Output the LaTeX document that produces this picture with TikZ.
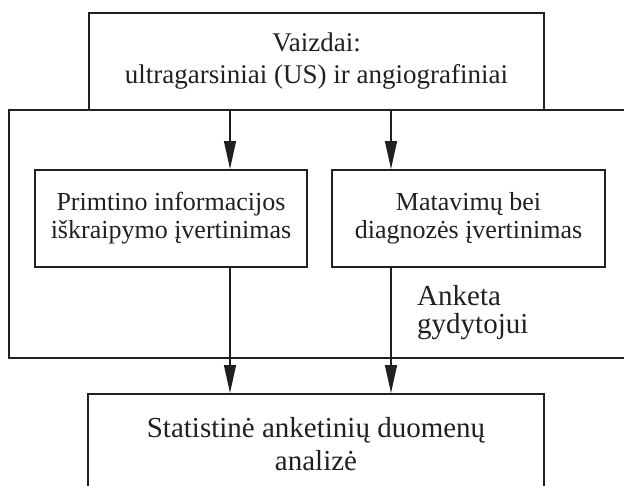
\documentclass[tikz,border=0pt]{standalone}
\usepackage{fontspec}
\setmainfont{Liberation Serif}
\usetikzlibrary{arrows.meta}
\definecolor{ink}{RGB}{35,31,32}

\begin{document}
\begin{tikzpicture}[x=1pt, y=-1pt,
    every node/.style={text=ink},
    box/.style={draw=ink, line width=2pt, align=center, inner sep=0pt, minimum height=97pt},
    toptext/.style={font=\fontsize{27}{32}\selectfont},
    midtext/.style={font=\fontsize{26}{28}\selectfont},
    bottext/.style={font=\fontsize{29}{33}\selectfont},
    arr/.style={draw=ink, line width=1.3pt, -{Triangle[length=28pt, width=12pt]}}
]
\useasboundingbox (0,0) rectangle (624,485);

\node[box, toptext, minimum width=455pt] (vaizdai) at (316.5,61.5)
    {Vaizdai:\\ultragarsiniai (US) ir angiografiniai};

\draw[draw=ink, line width=2pt] (9,110) rectangle (640,358);

\node[box, midtext, minimum width=272pt] (iskraip) at (171,218.5)
    {Primtino informacijos\\iškraipymo įvertinimas};
\node[box, midtext, minimum width=273pt] (diagn) at (468.5,218.5)
    {Matavimų bei\\diagnozės įvertinimas};
\node[box, bottext, minimum width=456pt, minimum height=101pt] (analize) at (316,444.5)
    {Statistinė anketinių duomenų\\analizė};

\node[font=\fontsize{29}{28}\selectfont, anchor=base west, inner sep=0pt, align=left] (anketa) at (417,333)
    {Anketa\\gydytojui};

\coordinate (kair) at (230,0);
\coordinate (desn) at (391,0);

\draw[arr] (vaizdai.south -| kair) -- (iskraip.north -| kair);
\draw[arr] (vaizdai.south -| desn) -- (diagn.north -| desn);
\draw[arr] (iskraip.south -| kair) -- (analize.north -| kair);
\draw[arr] (diagn.south -| desn) -- (analize.north -| desn);

\end{tikzpicture}
\end{document}
